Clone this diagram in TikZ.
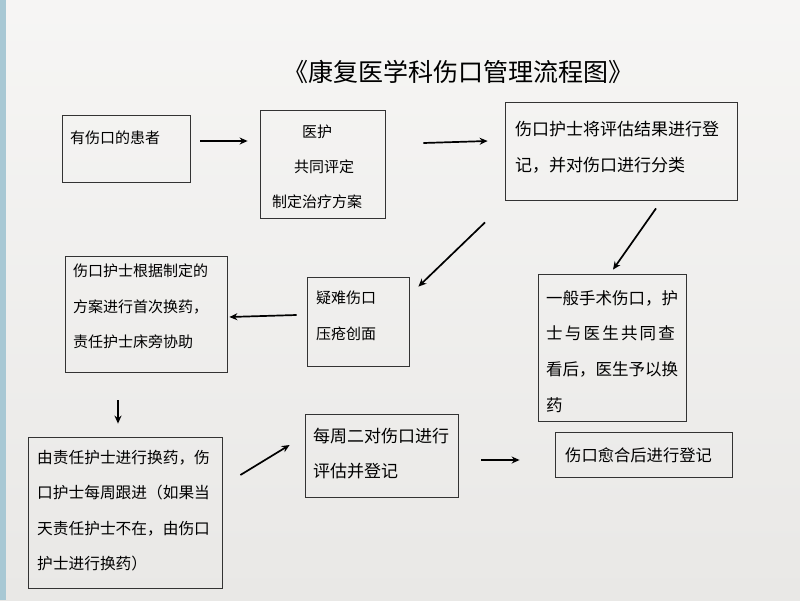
\documentclass[tikz,border=0pt]{standalone}
\usepackage{fontspec}
\setmainfont{Noto Sans CJK SC}
\usetikzlibrary{arrows.meta,calc}
\definecolor{paper}{HTML}{F0EFED}
\definecolor{paperlow}{HTML}{E9E8E6}
\definecolor{edgeblue}{HTML}{A8C8D4}
\tikzset{
  box/.style={draw=black!80,line width=0.8pt,inner sep=0pt,fill=none},
  txt/.style={inner sep=0pt,align=left,anchor=north west,font=\fontsize{15}{35.5}\selectfont},
  arr/.style={line width=1.7pt,-{Stealth[length=8pt,width=7pt]}}
}
\begin{document}
\begin{tikzpicture}[x=1pt,y=-1pt]
\useasboundingbox (0,0) rectangle (800,600);
\shade[top color=paper!60!white,bottom color=paperlow] (0,0) rectangle (800,600);
\fill[edgeblue] (0,0) rectangle (6,600);
% title
\node[inner sep=0pt,font=\fontsize{25}{30}\selectfont] (title) at (458,72) {《康复医学科伤口管理流程图》};
% boxes
\node[box,minimum width=128pt,minimum height=67pt] (b1) at (126,148.5) {};
\node[box,minimum width=125pt,minimum height=108pt] (b2) at (322.5,164) {};
\node[box,minimum width=232pt,minimum height=98pt] (b3) at (621,151) {};
\node[box,minimum width=162pt,minimum height=116pt] (b4) at (146,314) {};
\node[box,minimum width=102pt,minimum height=89pt] (b5) at (358,321.5) {};
\node[box,minimum width=148pt,minimum height=147pt] (b6) at (612,347.5) {};
\node[box,minimum width=177pt,minimum height=45pt] (b7) at (643.5,454.5) {};
\node[box,minimum width=194pt,minimum height=151pt] (b8) at (125,512.5) {};
\node[box,minimum width=153pt,minimum height=83pt] (b9) at (381.5,455.5) {};
% texts
\node[txt] (t1) at (70,131) {有伤口的患者};
\node[txt] (t2a) at (302,125) {医护};
\node[txt] (t2b) at (294,160) {共同评定};
\node[txt] (t2c) at (272,195) {制定治疗方案};
\node[txt,font=\fontsize{17}{35.5}\selectfont] (t3) at (515,121) {伤口护士将评估结果进行登\\记，并对伤口进行分类};
\node[txt] (t4) at (73,264) {伤口护士根据制定的\\方案进行首次换药，\\责任护士床旁协助};
\node[txt] (t5) at (316,291) {疑难伤口\\压疮创面};
\node[txt,font=\fontsize{16.5}{35.8}\selectfont] (t6) at (546,290) {一般手术伤口，护\\士\hspace{2.2pt}与\hspace{2.2pt}医\hspace{2.2pt}生\hspace{2.2pt}共\hspace{2.2pt}同\hspace{2.2pt}查\\看后，医生予以换\\药};
\node[txt,font=\fontsize{16.3}{35}\selectfont] (t7) at (565,447) {伤口愈合后进行登记};
\node[txt,font=\fontsize{15.7}{35.3}\selectfont] (t8) at (37,450) {由责任护士进行换药，伤\\口护士每周跟进（如果当\\天责任护士不在，由伤口\\护士进行换药）};
\node[txt,font=\fontsize{17}{35}\selectfont] (t9) at (313,428) {每周二对伤口进行\\评估并登记};
% arrows
\draw[arr] ($(b1.east)+(10,-7.5)$) -- ($(b2.west)+(-12,-23)$);
\draw[arr] ($(b2.east)+(38,-21)$) -- ($(b3.west)+(-17,-10)$);
\draw[arr] ($(b3.south)+(-136,22)$) -- ($(b5.north east)+(9,10)$);
\draw[arr] ($(b3.south)+(35,8)$) -- ($(b6.north)+(1,-4)$);
\draw[arr] ($(b5.west)+(-10,-6.5)$) -- ($(b4.east)+(2,3)$);
\draw[arr] ($(b4.south)+(-28,28)$) -- ($(b8.north)+(-7,-13)$);
\draw[arr] ($(b8.east)+(18,-37.5)$) -- ($(b9.west)+(-15,-10.5)$);
\draw[arr] ($(b9.east)+(23,4.5)$) -- ($(b7.west)+(-35,5.5)$);
\end{tikzpicture}
\end{document}
